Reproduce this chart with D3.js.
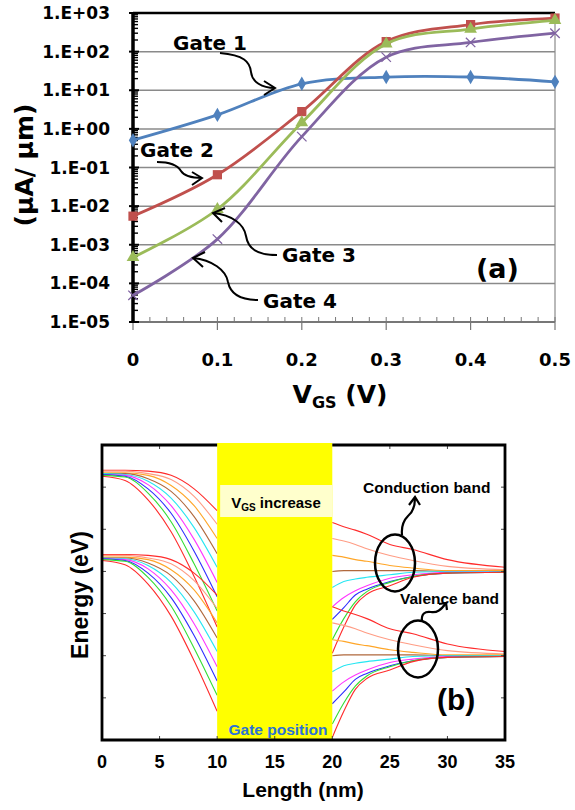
<!DOCTYPE html>
<html>
<head>
<meta charset="utf-8">
<script src="https://cdn.jsdelivr.net/npm/d3@7"></script>
<style>
  body { margin: 0; background: #fff; }
  svg { display: block; }
</style>
</head>
<body>
<script>
// ---- panel (a) data ----
var vgs = [0, 0.1, 0.2, 0.3, 0.4, 0.5];
var gate1 = [0.51, 2.3, 14.7, 22, 22, 16.5];
var gate2 = [0.0055, 0.065, 2.8, 182, 500, 740];
var gate3 = [0.00047, 0.0083, 1.45, 158, 385, 645];
var gate4 = [0.000049, 0.0014, 0.63, 72, 173, 300];
var decadeTicks = [1e-5, 1e-4, 1e-3, 1e-2, 1e-1, 1e0, 1e1, 1e2, 1e3];
var decadeLabels = ["1.E-05", "1.E-04", "1.E-03", "1.E-02", "1.E-01", "1.E+00", "1.E+01", "1.E+02", "1.E+03"];
var vgsTicks = [0, 0.1, 0.2, 0.3, 0.4, 0.5];
var vgsLabels = ["0", "0.1", "0.2", "0.3", "0.4", "0.5"];

// ---- panel (b) data: conduction band edge (eV) per V_GS step ----
var lengthTicks = [0, 5, 10, 15, 20, 25, 30, 35];
var energyTicks = [-1.0, -0.5, 0, 0.5, 1.0, 1.5];
var gateStart = 10, gateEnd = 20;
var bandGap = 1.0;
var leftX = [0, 2, 4, 6, 8, 10];
var rightX = [20, 21, 22, 23, 25, 27, 30, 35];
var bandColors = ["#ff2b2b", "#ff9c84", "#ffa628", "#b0683c", "#26e6f2", "#ff35ff", "#2d2dff", "#33dd33", "#ff2b2b"];
var ecLeft = [
  [1.70, 1.70, 1.69, 1.64, 1.48, 1.22],
  [1.69, 1.69, 1.66, 1.59, 1.39, 1.06],
  [1.67, 1.67, 1.64, 1.52, 1.28, 0.89],
  [1.66, 1.66, 1.60, 1.45, 1.15, 0.71],
  [1.66, 1.65, 1.57, 1.37, 1.02, 0.55],
  [1.65, 1.64, 1.53, 1.28, 0.88, 0.37],
  [1.65, 1.63, 1.48, 1.19, 0.74, 0.20],
  [1.64, 1.62, 1.43, 1.09, 0.59, 0.03],
  [1.63, 1.58, 1.35, 0.97, 0.44, -0.16]
];
var ecRight = [
  [1.08, 1.03, 0.99, 0.94, 0.82, 0.76, 0.64, 0.55],
  [0.89, 0.86, 0.82, 0.77, 0.69, 0.63, 0.56, 0.52],
  [0.69, 0.67, 0.64, 0.62, 0.57, 0.54, 0.51, 0.51],
  [0.50, 0.51, 0.51, 0.51, 0.51, 0.51, 0.50, 0.50],
  [0.31, 0.38, 0.41, 0.43, 0.46, 0.49, 0.50, 0.50],
  [0.08, 0.19, 0.27, 0.33, 0.42, 0.46, 0.49, 0.49],
  [-0.07, 0.07, 0.22, 0.29, 0.38, 0.44, 0.48, 0.49],
  [-0.31, -0.06, 0.14, 0.26, 0.37, 0.44, 0.48, 0.49],
  [-0.47, -0.16, 0.10, 0.23, 0.33, 0.43, 0.48, 0.49]
];

var fontA = "'DejaVu Sans', sans-serif";
var fontB = "'Liberation Sans', Arial, sans-serif";

var svg = d3.select("body").append("svg")
    .attr("width", 575)
    .attr("height", 810);

// =================== panel (a) ===================
var xA = d3.scaleLinear().domain([0, 0.5]).range([133, 555]);
var yA = d3.scaleLog().domain([1e-5, 1e3]).range([322, 13]);

var gA = svg.append("g");

// gridlines
gA.selectAll(".grid")
    .data(decadeTicks.slice(1))
    .enter().append("line")
    .attr("x1", xA(0)).attr("x2", xA(0.5))
    .attr("y1", function (d) { return yA(d); })
    .attr("y2", function (d) { return yA(d); })
    .attr("stroke", function (d) { return d === 1e3 ? "#000" : "#8a8a8a"; })
    .attr("stroke-width", function (d) { return d === 1e3 ? 2.5 : 1.5; });

// right border + bottom axis
gA.append("line")
    .attr("x1", xA(0.5)).attr("x2", xA(0.5))
    .attr("y1", yA(1e3)).attr("y2", yA(1e-5))
    .attr("stroke", "#8a8a8a").attr("stroke-width", 1.2);
gA.append("line")
    .attr("x1", xA(0)).attr("x2", xA(0.5))
    .attr("y1", yA(1e-5)).attr("y2", yA(1e-5))
    .attr("stroke", "#777").attr("stroke-width", 1.8);

// x ticks
var minorX = d3.range(0, 0.5001, 0.02);
gA.selectAll(".xminor")
    .data(minorX)
    .enter().append("line")
    .attr("x1", function (d) { return xA(d); })
    .attr("x2", function (d) { return xA(d); })
    .attr("y1", yA(1e-5) - 5).attr("y2", yA(1e-5))
    .attr("stroke", "#777").attr("stroke-width", 1);
gA.selectAll(".xmajor")
    .data(vgsTicks)
    .enter().append("line")
    .attr("x1", function (d) { return xA(d); })
    .attr("x2", function (d) { return xA(d); })
    .attr("y1", yA(1e-5)).attr("y2", yA(1e-5) + 8)
    .attr("stroke", "#777").attr("stroke-width", 1.2);

gA.selectAll(".xlab")
    .data(vgsTicks)
    .enter().append("text")
    .attr("x", function (d) { return xA(d); })
    .attr("y", 366)
    .attr("text-anchor", "middle")
    .style("font-family", fontA)
    .style("font-weight", "bold")
    .style("font-size", "18px")
    .text(function (d, i) { return vgsLabels[i]; });

// y axis (thick, with log minor ticks)
var minorY = [];
decadeTicks.slice(0, -1).forEach(function (d) {
    for (var m = 2; m <= 9; m++) minorY.push(d * m);
});
gA.selectAll(".yminor")
    .data(minorY)
    .enter().append("line")
    .attr("x1", xA(0)).attr("x2", xA(0) + 5)
    .attr("y1", function (d) { return yA(d); })
    .attr("y2", function (d) { return yA(d); })
    .attr("stroke", "#000").attr("stroke-width", 1.4);
gA.selectAll(".ymajor")
    .data(decadeTicks)
    .enter().append("line")
    .attr("x1", xA(0) - 4).attr("x2", xA(0) + 6)
    .attr("y1", function (d) { return yA(d); })
    .attr("y2", function (d) { return yA(d); })
    .attr("stroke", "#000").attr("stroke-width", 2);
gA.append("line")
    .attr("x1", xA(0)).attr("x2", xA(0))
    .attr("y1", yA(1e3) - 1).attr("y2", yA(1e-5))
    .attr("stroke", "#000").attr("stroke-width", 3.5);

gA.selectAll(".ylab")
    .data(decadeTicks)
    .enter().append("text")
    .attr("x", 110)
    .attr("y", function (d) { return yA(d); })
    .attr("dy", "0.36em")
    .attr("text-anchor", "end")
    .style("font-family", fontA)
    .style("font-weight", "bold")
    .style("font-size", "17px")
    .text(function (d, i) { return decadeLabels[i]; });

// axis titles
gA.append("text")
    .attr("transform", "translate(33,165) rotate(-90)")
    .attr("text-anchor", "middle")
    .style("font-family", fontA)
    .style("font-weight", "bold")
    .style("font-size", "25px")
    .text("(µA/ µm)");

var xt = gA.append("text")
    .attr("x", 340)
    .attr("y", 403)
    .attr("text-anchor", "middle")
    .style("font-family", fontA)
    .style("font-weight", "bold")
    .style("font-size", "25px");
xt.append("tspan").text("V");
xt.append("tspan").attr("dy", 5).style("font-size", "16px").text("GS");
xt.append("tspan").attr("dy", -5).text(" (V)");

// series
var seriesA = [
    { name: "Gate 1", values: gate1, color: "#4f81bd", marker: d3.symbolDiamond, size: 60 },
    { name: "Gate 2", values: gate2, color: "#c0504d", marker: d3.symbolSquare, size: 85 },
    { name: "Gate 3", values: gate3, color: "#9bbb59", marker: d3.symbolTriangle, size: 70 },
    { name: "Gate 4", values: gate4, color: "#8064a2", marker: d3.symbolX, size: 60 }
];

var lineA = d3.line()
    .x(function (d) { return xA(d[0]); })
    .y(function (d) { return yA(d[1]); })
    .curve(d3.curveCatmullRom.alpha(0.5));

seriesA.forEach(function (s) {
    var pts = vgs.map(function (v, i) { return [v, s.values[i]]; });
    gA.append("path")
        .datum(pts)
        .attr("d", lineA)
        .attr("fill", "none")
        .attr("stroke", s.color)
        .attr("stroke-width", 2.8);
    gA.selectAll(null)
        .data(pts)
        .enter().append("path")
        .attr("transform", function (d) { return "translate(" + xA(d[0]) + "," + yA(d[1]) + ")"; })
        .attr("d", d3.symbol().type(s.marker).size(s.size))
        .attr("fill", s.marker === d3.symbolX ? "none" : s.color)
        .attr("stroke", s.marker === d3.symbolX ? s.color : "none")
        .attr("stroke-width", 1.3);
});

// annotations
var annA = [
    { text: "Gate 1", x: 173, y: 50,
      path: "M220,53 C244,55 250,62 251,72 C252,82 262,88 275,88", head: "M264,81 L275,88 L264,95" },
    { text: "Gate 2", x: 140, y: 157,
      path: "M157,162 C172,162 178,166 181,171 C184,176 190,178 202,178", head: "M192,172 L202,178 L192,185" },
    { text: "Gate 3", x: 282, y: 262,
      path: "M277,255 C256,255 248,248 246,236 C244,224 232,215 213,213", head: "M225,208 L213,213 L222,222" },
    { text: "Gate 4", x: 263, y: 308,
      path: "M258,300 C237,300 230,292 228,282 C226,270 212,260 193,258", head: "M205,252 L193,258 L203,267" }
];
annA.forEach(function (a) {
    gA.append("path").attr("d", a.path)
        .attr("fill", "none").attr("stroke", "#000").attr("stroke-width", 2);
    gA.append("path").attr("d", a.head)
        .attr("fill", "none").attr("stroke", "#000").attr("stroke-width", 2);
    gA.append("text")
        .attr("x", a.x).attr("y", a.y)
        .style("font-family", fontA)
        .style("font-weight", "bold")
        .style("font-size", "20px")
        .text(a.text);
});

gA.append("text")
    .attr("x", 476).attr("y", 278)
    .style("font-family", fontA)
    .style("font-weight", "bold")
    .style("font-size", "27px")
    .text("(a)");

// =================== panel (b) ===================
var xB = d3.scaleLinear().domain([0, 35]).range([102, 505]);
var yB = d3.scaleLinear().domain([-1.5, 2.0]).range([740, 445]);

var gB = svg.append("g");

gB.append("defs").append("clipPath")
    .attr("id", "clipB")
    .append("rect")
    .attr("x", xB(0)).attr("y", yB(2.0))
    .attr("width", xB(35) - xB(0))
    .attr("height", yB(-1.5) - yB(2.0));

var lineB = d3.line()
    .x(function (d) { return xB(d[0]); })
    .y(function (d) { return yB(d[1]); })
    .curve(d3.curveMonotoneX);

var bands = gB.append("g").attr("clip-path", "url(#clipB)");
[0, bandGap].forEach(function (shift) {
    ecLeft.forEach(function (vals, k) {
        var pl = leftX.map(function (x, i) { return [x, vals[i] - shift]; });
        var pr = rightX.map(function (x, i) { return [x, ecRight[k][i] - shift]; });
        [pl, pr].forEach(function (pts) {
            bands.append("path")
                .datum(pts)
                .attr("d", lineB)
                .attr("fill", "none")
                .attr("stroke", bandColors[k])
                .attr("stroke-width", 1.1);
        });
    });
});

// gate region
gB.append("rect")
    .attr("x", xB(gateStart))
    .attr("y", yB(2.0) - 2)
    .attr("width", xB(gateEnd) - xB(gateStart))
    .attr("height", yB(-1.5) - yB(2.0) + 2)
    .attr("fill", "#ffff00");

gB.append("rect")
    .attr("x", xB(gateStart) + 3)
    .attr("y", 485)
    .attr("width", xB(gateEnd) - xB(gateStart) - 3)
    .attr("height", 32)
    .attr("fill", "#ffffcc");
var vt = gB.append("text")
    .attr("x", 276).attr("y", 508)
    .attr("text-anchor", "middle")
    .style("font-family", fontB)
    .style("font-weight", "bold")
    .style("font-size", "15px");
vt.append("tspan").text("V");
vt.append("tspan").attr("dy", 3).style("font-size", "10px").text("GS");
vt.append("tspan").attr("dy", -3).text(" increase");

gB.append("text")
    .attr("x", 278).attr("y", 735)
    .attr("text-anchor", "middle")
    .style("font-family", fontB)
    .style("font-weight", "bold")
    .style("font-size", "15.5px")
    .style("fill", "#2a72d6")
    .text("Gate position");

// frame and ticks
var yTickPos = energyTicks.map(function (d) { return yB(d); });
gB.selectAll(".tl")
    .data(energyTicks)
    .enter().append("line")
    .attr("x1", xB(0)).attr("x2", xB(0) + 4)
    .attr("y1", function (d) { return yB(d); })
    .attr("y2", function (d) { return yB(d); })
    .attr("stroke", "#444").attr("stroke-width", 1);
gB.selectAll(".tr")
    .data(energyTicks)
    .enter().append("line")
    .attr("x1", xB(35) - 4).attr("x2", xB(35))
    .attr("y1", function (d) { return yB(d); })
    .attr("y2", function (d) { return yB(d); })
    .attr("stroke", "#444").attr("stroke-width", 1);
gB.selectAll(".tb")
    .data(lengthTicks.slice(1, -1))
    .enter().append("line")
    .attr("x1", function (d) { return xB(d); })
    .attr("x2", function (d) { return xB(d); })
    .attr("y1", yB(-1.5) - 4).attr("y2", yB(-1.5))
    .attr("stroke", "#444").attr("stroke-width", 1);
gB.selectAll(".tt")
    .data(lengthTicks.slice(1, -1).filter(function (d) { return d < gateStart || d > gateEnd; }))
    .enter().append("line")
    .attr("x1", function (d) { return xB(d); })
    .attr("x2", function (d) { return xB(d); })
    .attr("y1", yB(2.0)).attr("y2", yB(2.0) + 4)
    .attr("stroke", "#444").attr("stroke-width", 1);

gB.append("path")
    .attr("d", "M" + xB(gateStart) + "," + yB(2.0) + "H" + xB(0) + "V" + yB(-1.5) + "H" + xB(35) + "V" + yB(2.0) + "H" + xB(gateEnd))
    .attr("fill", "none")
    .attr("stroke", "#000")
    .attr("stroke-width", 2.8);

gB.selectAll(".xlabB")
    .data(lengthTicks)
    .enter().append("text")
    .attr("x", function (d) { return xB(d); })
    .attr("y", 768)
    .attr("text-anchor", "middle")
    .style("font-family", fontB)
    .style("font-weight", "bold")
    .style("font-size", "18px")
    .text(function (d) { return d; });

gB.append("text")
    .attr("x", 303).attr("y", 797)
    .attr("text-anchor", "middle")
    .style("font-family", fontB)
    .style("font-weight", "bold")
    .style("font-size", "21px")
    .text("Length (nm)");

gB.append("text")
    .attr("transform", "translate(88,595) rotate(-90)")
    .attr("text-anchor", "middle")
    .style("font-family", fontB)
    .style("font-weight", "bold")
    .style("font-size", "23px")
    .text("Energy (eV)");

// band annotations
var annB = [
    { text: "Conduction band", tx: 363, ty: 493, cx: 395, cy: 563,
      path: "M402,535 C401,525 404,520 408,516 C413,512 415,506 415,498", head: "M409,505 L415,497 L420,505" },
    { text: "Valence band", tx: 400, ty: 604, cx: 418, cy: 649,
      path: "M422,621 C421,614 425,611 431,612 C437,613 441,610 446,603", head: "M439,604 L446,603 L447,610" }
];
annB.forEach(function (a) {
    gB.append("ellipse")
        .attr("cx", a.cx).attr("cy", a.cy)
        .attr("rx", 20).attr("ry", 28.5)
        .attr("fill", "none")
        .attr("stroke", "#000")
        .attr("stroke-width", 2.5);
    gB.append("path").attr("d", a.path)
        .attr("fill", "none").attr("stroke", "#000").attr("stroke-width", 2.2);
    gB.append("path").attr("d", a.head)
        .attr("fill", "none").attr("stroke", "#000").attr("stroke-width", 2.2);
    gB.append("text")
        .attr("x", a.tx).attr("y", a.ty)
        .style("font-family", fontB)
        .style("font-weight", "bold")
        .style("font-size", "15.5px")
        .text(a.text);
});

gB.append("text")
    .attr("x", 437).attr("y", 710)
    .style("font-family", fontB)
    .style("font-weight", "bold")
    .style("font-size", "30px")
    .text("(b)");
</script>
</body>
</html>
